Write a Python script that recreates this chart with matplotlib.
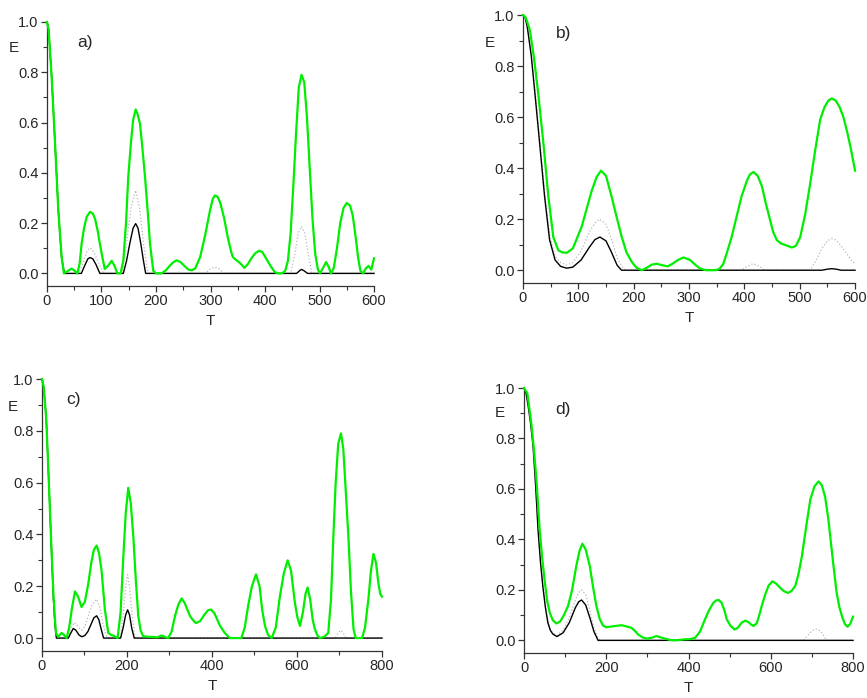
import matplotlib
matplotlib.use("Agg")
import matplotlib.pyplot as plt
from matplotlib.ticker import MultipleLocator

plt.rcParams['font.family'] = ['Liberation Sans', 'DejaVu Sans']

# ---------------- panel a ----------------
a_green_t = [0, 3, 8.6, 14.7, 20.8, 26.9, 31, 34, 40, 45, 50, 55.7, 60, 63.6, 68, 72.8, 79, 84, 88, 93, 97,
             102, 106, 112, 118.7, 124, 129, 135, 140, 145, 149, 154, 158, 162.7, 166, 170.6, 175, 180, 185,
             189, 195, 200, 210, 218, 225, 232, 238, 245, 252, 259, 265.5, 272, 281, 290, 299, 304, 308, 313,
             318, 325, 332, 338, 341, 346, 352, 357, 362, 368, 375, 382, 389, 395, 402, 410, 418, 425, 431,
             437, 442, 447, 452, 457, 462, 467, 472, 477, 482, 487, 492, 497, 501, 506, 512, 517, 521, 526,
             532, 538, 544, 550, 556, 561, 566, 571, 575, 580, 585, 590, 595, 600]
a_green_v = [1.0, 0.97, 0.78, 0.52, 0.25, 0.065, 0.0, 0.005, 0.012, 0.019, 0.012, 0.0, 0.04, 0.12, 0.18, 0.225,
             0.245, 0.238, 0.218, 0.17, 0.118, 0.06, 0.018, 0.03, 0.05, 0.03, 0.0, 0.0, 0.05, 0.2, 0.38, 0.52,
             0.61, 0.652, 0.635, 0.596, 0.5, 0.38, 0.24, 0.118, 0.01, 0.0, 0.0, 0.012, 0.03, 0.045, 0.052,
             0.045, 0.03, 0.016, 0.012, 0.02, 0.065, 0.15, 0.25, 0.295, 0.31, 0.305, 0.28, 0.22, 0.14, 0.085,
             0.065, 0.055, 0.045, 0.035, 0.022, 0.035, 0.06, 0.08, 0.09, 0.085, 0.06, 0.03, 0.005, 0.0, 0.0,
             0.01, 0.05, 0.16, 0.35, 0.56, 0.74, 0.79, 0.76, 0.62, 0.42, 0.22, 0.08, 0.015, 0.0, 0.02, 0.045,
             0.025, 0.0, 0.02, 0.1, 0.2, 0.26, 0.28, 0.27, 0.23, 0.15, 0.06, 0.01, 0.0, 0.02, 0.03, 0.015, 0.06]
a_black_t = [0, 3, 8.6, 14.7, 20.8, 26.9, 32, 63, 70, 75, 79, 84, 90, 97, 140, 146, 152, 158, 162.7, 167,
             172, 177, 181, 458, 463, 467, 472, 478, 600]
a_black_v = [1.0, 0.97, 0.78, 0.52, 0.25, 0.06, 0.0, 0.0, 0.035, 0.058, 0.063, 0.058, 0.035, 0.0, 0.0,
             0.05, 0.12, 0.18, 0.198, 0.18, 0.12, 0.05, 0.0, 0.0, 0.01, 0.016, 0.01, 0.0, 0.0]
a_gray_t = [0, 3, 8.6, 14.7, 20.8, 26.9, 33, 58, 66, 73, 79, 86, 93, 104, 138, 146, 154, 162.7, 170, 177,
            185, 290, 300, 308, 316, 325, 447, 455, 461, 467, 473, 479, 486, 600]
a_gray_v = [1.0, 0.97, 0.78, 0.52, 0.25, 0.06, 0.0, 0.0, 0.04, 0.085, 0.102, 0.085, 0.05, 0.0, 0.0, 0.12,
            0.26, 0.33, 0.26, 0.12, 0.0, 0.0, 0.018, 0.025, 0.018, 0.0, 0.0, 0.08, 0.16, 0.187, 0.16, 0.08,
            0.0, 0.0]

# ---------------- panel b ----------------
b_green_t = [0, 5, 12.6, 20, 27.7, 36.8, 45.8, 54.8, 63.9, 71, 79, 90, 106, 115, 124, 133, 141, 150, 160, 169,
             178.5, 187, 196.5, 205, 214.6, 224, 233, 241.7, 251, 261.6, 270, 280, 290, 302, 312, 320, 330,
             340, 348, 355, 362, 368, 377, 386, 395, 404.5, 410, 416.5, 424, 431.6, 439, 446.6, 452, 458.7,
             466, 475, 485.8, 493, 501, 510, 519, 528, 537, 545, 552, 558, 565, 572, 579, 586, 593, 600]
b_green_v = [1.0, 0.99, 0.94, 0.83, 0.69, 0.50, 0.29, 0.13, 0.078, 0.07, 0.068, 0.085, 0.17, 0.24, 0.31,
             0.365, 0.39, 0.37, 0.29, 0.21, 0.13, 0.07, 0.033, 0.01, 0.0, 0.01, 0.022, 0.025, 0.02, 0.015, 0.025,
             0.04, 0.05, 0.04, 0.02, 0.007, 0.0, 0.0, 0.0, 0.005, 0.025, 0.065, 0.13, 0.21, 0.29, 0.35, 0.375,
             0.385, 0.37, 0.33, 0.26, 0.196, 0.15, 0.118, 0.105, 0.098, 0.089, 0.095, 0.13, 0.22, 0.34, 0.47,
             0.59, 0.64, 0.665, 0.673, 0.665, 0.64, 0.60, 0.54, 0.47, 0.39]
b_black_t = [0, 4, 8, 15, 21.7, 30, 39, 48, 58, 68, 79, 90, 105, 120, 130, 139, 150, 160, 170, 178, 540, 550,
             558, 566, 575, 600]
b_black_v = [1.0, 0.99, 0.95, 0.84, 0.69, 0.50, 0.29, 0.12, 0.04, 0.015, 0.008, 0.012, 0.04, 0.09, 0.12,
             0.13, 0.115, 0.07, 0.02, 0.0, 0.0, 0.004, 0.006, 0.004, 0.0, 0.0]
b_gray_t = [0, 4, 8, 15, 22, 31, 40, 49, 58, 68, 79, 90, 105, 120, 130, 138, 150, 160, 170, 180, 186, 395, 405,
            416, 427, 437, 519, 530, 540, 550, 558, 566, 575, 585, 593, 600]
b_gray_v = [1.0, 0.99, 0.95, 0.84, 0.7, 0.5, 0.29, 0.13, 0.055, 0.03, 0.02, 0.03, 0.075, 0.15, 0.185, 0.2,
            0.18, 0.12, 0.05, 0.01, 0.0, 0.0, 0.015, 0.026, 0.015, 0.0, 0.0, 0.04, 0.085, 0.115, 0.124, 0.118,
            0.095, 0.065, 0.04, 0.026]

# ---------------- panel c ----------------
c_green_t = [0, 4, 10, 15, 22.7, 27, 30.6, 33, 38, 42, 46, 52, 58, 64, 70, 77.6, 85, 93, 101, 109, 116, 122,
             128.6, 134, 140, 148, 156, 163, 170, 178, 185, 191, 197, 203, 209, 215, 221, 226.6, 232, 238,
             250, 262, 272, 281.6, 290, 297, 305, 313, 321, 328.6, 336, 342, 348, 355, 362, 372, 382, 391,
             398, 406, 419, 430, 442, 455, 469, 477, 485, 494, 503.5, 512, 518, 524.7, 532, 540.5, 550, 560,
             569, 578, 586, 595, 601, 607, 614, 620, 625, 631, 637, 642, 648, 654, 664, 673.6, 680, 685.5,
             691, 697, 703.5, 709, 715, 721, 727, 733, 738, 745, 753, 760, 768, 774, 780, 786, 791.6, 796,
             800]
c_green_v = [1.0, 0.97, 0.85, 0.65, 0.33, 0.17, 0.073, 0.02, 0.005, 0.012, 0.02, 0.012, 0.0, 0.04, 0.11, 0.18,
             0.16, 0.12, 0.14, 0.21, 0.29, 0.34, 0.357, 0.33, 0.265, 0.11, 0.02, 0.012, 0.008, 0.0, 0.1, 0.3,
             0.48, 0.58, 0.52, 0.39, 0.22, 0.086, 0.03, 0.007, 0.005, 0.004, 0.003, 0.01, 0.004, 0.0, 0.025,
             0.085, 0.13, 0.153, 0.135, 0.11, 0.086, 0.07, 0.058, 0.065, 0.09, 0.108, 0.11, 0.095, 0.047, 0.02,
             0.0, 0.0, 0.0, 0.04, 0.124, 0.2, 0.246, 0.2, 0.11, 0.047, 0.012, 0.0, 0.04, 0.163, 0.25, 0.30,
             0.26, 0.137, 0.08, 0.047, 0.1, 0.17, 0.195, 0.15, 0.07, 0.035, 0.01, 0.0, 0.005, 0.02, 0.15,
             0.39, 0.6, 0.75, 0.79, 0.73, 0.56, 0.39, 0.18, 0.035, 0.0, 0.0, 0.0, 0.04, 0.15, 0.26, 0.325,
             0.29, 0.21, 0.17, 0.16]
c_black_t = [0, 4, 10, 15, 22.7, 27, 30.6, 34, 62, 68, 73.7, 80, 87, 94, 101, 108, 116, 122, 128.6, 134, 140,
             145, 185, 191, 197, 201.5, 206, 211, 217, 800]
c_black_v = [1.0, 0.97, 0.85, 0.65, 0.33, 0.15, 0.05, 0.0, 0.0, 0.02, 0.037, 0.03, 0.012, 0.005, 0.01, 0.025,
             0.055, 0.078, 0.086, 0.07, 0.03, 0.0, 0.0, 0.04, 0.09, 0.109, 0.09, 0.04, 0.0, 0.0]
c_gray_t = [0, 4, 10, 15, 22.7, 27, 30.6, 34, 60, 67, 76, 84, 93, 101, 110, 118, 128, 136, 143, 149, 155, 185,
            192, 197, 201.5, 206, 212, 219, 690, 697, 703, 709, 715, 800]
c_gray_v = [1.0, 0.97, 0.85, 0.65, 0.33, 0.15, 0.05, 0.0, 0.0, 0.035, 0.06, 0.045, 0.03, 0.045, 0.09, 0.13,
            0.15, 0.12, 0.06, 0.02, 0.0, 0.0, 0.1, 0.2, 0.245, 0.2, 0.09, 0.0, 0.0, 0.02, 0.03, 0.02, 0.0, 0.0]

# ---------------- panel d ----------------
d_green_t = [0, 8, 17.8, 24, 30, 38, 44, 50, 56, 62.5, 70, 78.7, 88, 97, 107, 117, 127, 135, 142, 150, 160,
             168, 176, 184, 192, 200, 208.5, 222, 237, 250, 261, 270, 277, 288, 297.6, 310, 322, 332, 342,
             355, 366, 380, 391, 404, 416, 428, 440, 450, 460, 467, 473, 480, 487, 493, 502, 511.7, 520, 529,
             537.7, 546, 552, 558, 566, 572, 578, 586, 595, 604, 613, 623, 632, 641.6, 650, 659.4, 667, 675.6,
             686, 696, 706, 716, 724, 732, 740, 746, 752.6, 760, 767, 773, 780, 786.7, 793, 800]
d_green_v = [1.0, 0.98, 0.86, 0.76, 0.64, 0.44, 0.33, 0.24, 0.16, 0.11, 0.08, 0.067, 0.075, 0.1, 0.136, 0.2,
             0.294, 0.355, 0.383, 0.36, 0.294, 0.21, 0.136, 0.085, 0.059, 0.052, 0.054, 0.057, 0.06, 0.055,
             0.05, 0.037, 0.024, 0.012, 0.007, 0.01, 0.017, 0.012, 0.007, 0.002, 0.0, 0.002, 0.004, 0.005,
             0.01, 0.035, 0.083, 0.12, 0.148, 0.158, 0.16, 0.15, 0.12, 0.083, 0.058, 0.043, 0.05, 0.07, 0.078,
             0.072, 0.063, 0.057, 0.068, 0.1, 0.136, 0.18, 0.218, 0.234, 0.225, 0.208, 0.195, 0.188, 0.195,
             0.215, 0.26, 0.333, 0.45, 0.557, 0.61, 0.63, 0.615, 0.57, 0.48, 0.39, 0.294, 0.19, 0.13, 0.096,
             0.065, 0.054, 0.065, 0.094]
d_black_t = [0, 5, 10, 16, 22, 28, 34, 40, 46, 52, 58, 64, 70, 80, 95, 110, 125, 133, 140, 150, 160, 170, 180,
             800]
d_black_v = [1.0, 0.98, 0.93, 0.86, 0.77, 0.62, 0.44, 0.31, 0.21, 0.13, 0.07, 0.04, 0.025, 0.015, 0.03, 0.07,
             0.13, 0.153, 0.16, 0.14, 0.09, 0.035, 0.0, 0.0]
d_gray_t = [0, 5, 10, 16, 22, 28, 34, 40, 46, 52, 58, 64, 70, 80, 95, 110, 125, 133, 140, 150, 160, 170, 180,
            186, 680, 690, 700, 710, 720, 728, 735, 800]
d_gray_v = [1.0, 0.98, 0.93, 0.86, 0.77, 0.62, 0.45, 0.32, 0.22, 0.14, 0.08, 0.045, 0.03, 0.02, 0.04, 0.09,
            0.16, 0.19, 0.2, 0.18, 0.12, 0.05, 0.01, 0.0, 0.0, 0.02, 0.038, 0.045, 0.038, 0.02, 0.0, 0.0]

panels = [
    dict(label='a)', lab_xy=(70, 0.92), xmax=600, xmaj=100, xmin=50, rect=[0.0542, 0.5903, 0.3772, 0.3782],
         e_xy=(-0.10, 0.895), g=(a_green_t, a_green_v), k=(a_black_t, a_black_v), s=(a_gray_t, a_gray_v)),
    dict(label='b)', lab_xy=(73, 0.928), xmax=600, xmaj=100, xmin=50, rect=[0.6032, 0.5946, 0.3830, 0.3839],
         e_xy=(-0.10, 0.89), g=(b_green_t, b_green_v), k=(b_black_t, b_black_v), s=(b_gray_t, b_gray_v)),
    dict(label='c)', lab_xy=(75, 0.92), xmax=800, xmaj=200, xmin=100, rect=[0.0484, 0.0673, 0.3922, 0.3897],
         e_xy=(-0.086, 0.893), g=(c_green_t, c_green_v), k=(c_black_t, c_black_v), s=(c_gray_t, c_gray_v)),
    dict(label='d)', lab_xy=(94, 0.913), xmax=800, xmaj=200, xmin=100, rect=[0.6044, 0.0645, 0.3795, 0.3796],
         e_xy=(-0.073, 0.90), g=(d_green_t, d_green_v), k=(d_black_t, d_black_v), s=(d_gray_t, d_gray_v)),
]

fig = plt.figure(figsize=(8.67, 6.98), dpi=100)
txt_col = '#262626'
for p in panels:
    ax = fig.add_axes(p['rect'])
    ax.plot(*p['s'], color='#b8b8b8', lw=0.9, ls=':', clip_on=False, zorder=2)
    ax.plot(*p['k'], color='black', lw=1.0, clip_on=False, zorder=3)
    ax.plot(*p['g'], color='#00ee00', lw=1.6, clip_on=False, zorder=4)
    ax.set_xlim(0, p['xmax'])
    ax.set_ylim(-0.05, 1.0)
    for sp in ['top', 'right']:
        ax.spines[sp].set_visible(False)
    for sp in ['left', 'bottom']:
        ax.spines[sp].set_color('#333333')
        ax.spines[sp].set_linewidth(0.9)
    ax.xaxis.set_major_locator(MultipleLocator(p['xmaj']))
    ax.xaxis.set_minor_locator(MultipleLocator(p['xmin']))
    ax.set_yticks([0.0, 0.2, 0.4, 0.6, 0.8, 1.0])
    ax.set_yticklabels(['0.0', '0.2', '0.4', '0.6', '0.8', '1.0'])
    ax.yaxis.set_minor_locator(MultipleLocator(0.1))
    ax.tick_params(which='major', direction='out', length=4, width=0.9, color='#333333',
                   labelsize=10.5, labelcolor=txt_col, pad=2)
    ax.tick_params(which='minor', direction='out', length=3, width=0.8, color='#333333')
    ax.set_xlabel('T', fontsize=11, color=txt_col, labelpad=4)
    ax.text(p['e_xy'][0], (p['e_xy'][1] + 0.05) / 1.05, 'E', transform=ax.transAxes, fontsize=11,
            color=txt_col, ha='center', va='center')
    ax.text(p['lab_xy'][0], p['lab_xy'][1], p['label'], fontsize=12.5, color=txt_col,
            ha='center', va='center')

fig.savefig('out.png', dpi=100)
